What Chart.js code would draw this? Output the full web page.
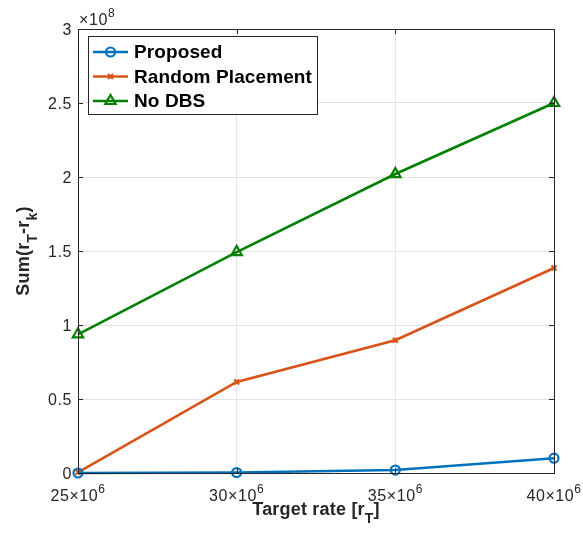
<!DOCTYPE html>
<html>
<head>
<meta charset="utf-8">
<script src="https://cdn.jsdelivr.net/npm/chart.js@4"></script>
<style>
  html, body { margin: 0; padding: 0; background: #fff; }
</style>
</head>
<body>
<canvas id="chart" width="583" height="533"></canvas>
<script>
// data
const targetRates = [25e6, 30e6, 35e6, 40e6];
const xTickMantissa = ['25', '30', '35', '40'];
const yTickLabels = ['0', '0.5', '1', '1.5', '2', '2.5', '3'];

const proposed = [0.0e8, 0.003e8, 0.02e8, 0.10e8];
const randomPlacement = [0.005e8, 0.615e8, 0.897e8, 1.385e8];
const noDBS = [0.937e8, 1.493e8, 2.02e8, 2.50e8];

const seriesNames = ['Proposed', 'Random Placement', 'No DBS'];
const seriesColors = ['#0072BD', '#D95319', '#008000'];
const seriesMarkers = ['circle', 'crossRot', 'triangle'];
const markerSizes = [4.5, 3.5, 6];

const FONT = '"Liberation Sans", Arial, Helvetica, sans-serif';
const axisColor = '#262626';
const gridColor = '#e3e3e3';

// draws a string made of pieces, some raised/lowered (super/subscripts)
function drawRich(ctx, parts, x, y, align, spacing) {
    ctx.letterSpacing = (spacing || 0) + 'px';
    let total = 0;
    parts.forEach(p => {
        ctx.font = p.font;
        p.w = ctx.measureText(p.t).width;
        total += p.w;
    });
    let cx = x;
    if (align === 'center') cx = x - total / 2;
    if (align === 'right') cx = x - total;
    ctx.textAlign = 'left';
    ctx.textBaseline = 'alphabetic';
    parts.forEach(p => {
        ctx.font = p.font;
        ctx.fillText(p.t, cx, y + (p.dy || 0));
        cx += p.w;
    });
    ctx.letterSpacing = '0px';
}

const matlabAxes = {
    id: 'matlabAxes',
    afterDraw(chart) {
        const ctx = chart.ctx;
        const a = chart.chartArea;
        const xs = chart.scales.x;
        const ys = chart.scales.y;
        ctx.save();

        // box
        ctx.strokeStyle = axisColor;
        ctx.lineWidth = 1;
        ctx.strokeRect(Math.round(a.left) + 0.5, Math.round(a.top) + 0.5,
            Math.round(a.right - a.left), Math.round(a.bottom - a.top));

        // inward tick marks on all four sides
        ctx.beginPath();
        targetRates.forEach(v => {
            const px = Math.round(xs.getPixelForValue(v)) + 0.5;
            ctx.moveTo(px, a.bottom); ctx.lineTo(px, a.bottom - 5);
            ctx.moveTo(px, a.top); ctx.lineTo(px, a.top + 5);
        });
        ys.ticks.forEach(t => {
            const py = Math.round(ys.getPixelForValue(t.value)) + 0.5;
            ctx.moveTo(a.left, py); ctx.lineTo(a.left + 5, py);
            ctx.moveTo(a.right, py); ctx.lineTo(a.right - 5, py);
        });
        ctx.stroke();

        ctx.fillStyle = axisColor;
        const tickFont = '16px ' + FONT;
        const supFont = '12px ' + FONT;

        // x tick labels  NN×10^6
        targetRates.forEach((v, i) => {
            const px = xs.getPixelForValue(v);
            drawRich(ctx, [
                { t: xTickMantissa[i] + '\u00d710', font: tickFont },
                { t: '6', font: supFont, dy: -8 }
            ], px, 501, 'center', 0.6);
        });

        // y tick labels
        ys.ticks.forEach((t, i) => {
            const py = ys.getPixelForValue(t.value);
            drawRich(ctx, [{ t: yTickLabels[i], font: tickFont }], a.left - 6, py + 5.5, 'right', 0.6);
        });

        // exponent
        drawRich(ctx, [
            { t: '\u00d710', font: tickFont },
            { t: '8', font: supFont, dy: -8 }
        ], a.left + 1, 25, 'left', 0.6);

        // axis titles
        const titleFont = 'bold 18px ' + FONT;
        const subFont = 'bold 14px ' + FONT;
        drawRich(ctx, [
            { t: 'Target rate [r', font: titleFont },
            { t: 'T', font: subFont, dy: 8 },
            { t: ']', font: titleFont }
        ], (a.left + a.right) / 2, 515, 'center', 0.2);

        ctx.save();
        ctx.translate(29, (a.top + a.bottom) / 2);
        ctx.rotate(-Math.PI / 2);
        drawRich(ctx, [
            { t: 'Sum(r', font: titleFont },
            { t: 'T', font: subFont, dy: 8 },
            { t: '-r', font: titleFont },
            { t: 'k', font: subFont, dy: 8 },
            { t: ')', font: titleFont }
        ], 0, 0, 'center', 0.2);
        ctx.restore();

        // legend inside the axes, top-left
        const lx = a.left + 10, ly = a.top + 7, lw = 229, lh = 78;
        ctx.fillStyle = '#fff';
        ctx.fillRect(lx, ly, lw, lh);
        ctx.lineWidth = 1;
        ctx.strokeStyle = axisColor;
        ctx.strokeRect(Math.round(lx) + 0.5, Math.round(ly) + 0.5, lw, lh);
        chart.data.datasets.forEach((ds, i) => {
            const yy = ly + 16 + i * 24.5;
            ctx.strokeStyle = ds.borderColor;
            ctx.lineWidth = ds.borderWidth;
            ctx.beginPath();
            ctx.moveTo(lx + 5, yy); ctx.lineTo(lx + 40, yy);
            ctx.stroke();
            ctx.fillStyle = 'rgba(0,0,0,0)';
            ctx.lineWidth = ds.pointBorderWidth;
            Chart.helpers.drawPoint(ctx, {
                pointStyle: ds.pointStyle,
                radius: ds.pointRadius,
                borderWidth: ds.pointBorderWidth
            }, lx + 22.5, yy);
            ctx.fillStyle = '#000';
            ctx.font = 'bold 19px ' + FONT;
            ctx.letterSpacing = '0.1px';
            ctx.textAlign = 'left';
            ctx.textBaseline = 'middle';
            ctx.fillText(ds.label, lx + 46, yy + 1);
            ctx.letterSpacing = '0px';
        });

        ctx.restore();
    }
};

const datasets = [proposed, randomPlacement, noDBS].map((vals, i) => ({
    label: seriesNames[i],
    data: vals.map((v, j) => ({ x: targetRates[j], y: v })),
    borderColor: seriesColors[i],
    backgroundColor: 'transparent',
    borderWidth: 2.6,
    pointStyle: seriesMarkers[i],
    pointRadius: markerSizes[i],
    pointBorderWidth: 2.2,
    pointBorderColor: seriesColors[i],
    pointBackgroundColor: 'transparent',
    pointHoverRadius: markerSizes[i],
    tension: 0,
    clip: false
}));

new Chart(document.getElementById('chart'), {
    type: 'line',
    data: { datasets },
    options: {
        responsive: false,
        animation: false,
        events: [],
        layout: { padding: { left: 78, right: 29, top: 29, bottom: 60 } },
        plugins: { legend: { display: false }, tooltip: { enabled: false } },
        scales: {
            x: {
                type: 'linear',
                min: 25e6, max: 40e6,
                ticks: { display: false, stepSize: 5e6 },
                grid: { color: gridColor, drawTicks: false, tickLength: 0 },
                border: { display: false },
                afterFit: s => { s.height = 0; }
            },
            y: {
                min: 0, max: 3e8,
                ticks: { display: false, stepSize: 0.5e8 },
                grid: { color: gridColor, drawTicks: false, tickLength: 0 },
                border: { display: false },
                afterFit: s => { s.width = 0; }
            }
        }
    },
    plugins: [matlabAxes]
});
</script>
</body>
</html>
